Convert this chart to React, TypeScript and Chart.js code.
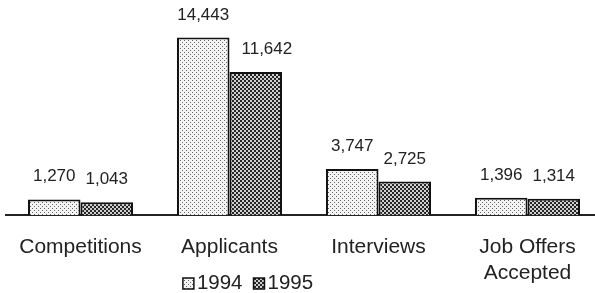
import React, { useEffect, useRef } from "react";
import { Chart, registerables } from "chart.js";

Chart.register(...registerables);

const categories: (string | string[])[] = ["Competitions", "Applicants", "Interviews", ["Job Offers", "Accepted"]];
const seriesNames = ["1994", "1995"];
const values1994 = [1270, 14443, 3747, 1396];
const values1995 = [1043, 11642, 2725, 1314];

const FONT = "'Liberation Sans', Arial, Helvetica, sans-serif";
const TEXT = "#222";

function makePattern(kind: number): CanvasPattern | string {
  const c = document.createElement("canvas");
  c.width = 4;
  c.height = 4;
  const g = c.getContext("2d");
  if (!g) return "#999";
  if (kind === 0) {
    g.fillStyle = "#f4f4f4";
    g.fillRect(0, 0, 4, 4);
    g.fillStyle = "#666";
    g.fillRect(0, 0, 1, 1);
    g.fillRect(2, 2, 1, 1);
  } else {
    g.fillStyle = "#cfcfcf";
    g.fillRect(0, 0, 4, 4);
    g.fillStyle = "#262626";
    g.fillRect(0, 0, 2, 2);
    g.fillRect(2, 2, 2, 2);
  }
  return g.createPattern(c, "repeat") || "#999";
}

function fmt(n: number): string {
  return String(n).replace(/\B(?=(\d{3})+(?!\d))/g, ",");
}

const valueLabels = {
  id: "valueLabels",
  afterDatasetsDraw(chart: any) {
    const ctx = chart.ctx;
    ctx.save();
    ctx.font = "17px " + FONT;
    ctx.fillStyle = TEXT;
    ctx.textAlign = "center";
    ctx.textBaseline = "alphabetic";
    chart.data.datasets.forEach((ds: any, di: number) => {
      const meta = chart.getDatasetMeta(di);
      meta.data.forEach((bar: any, i: number) => {
        const text = fmt(ds.data[i]);
        const y = bar.y - 18;
        let x = bar.x;
        const w = ctx.measureText(text).width;
        if (di > 0) {
          const prev = chart.getDatasetMeta(di - 1).data[i];
          const prevRight = prev.x + prev.width / 2;
          if (prev.y < y && x - w / 2 < prevRight + 12) x = prevRight + 12 + w / 2;
        }
        ctx.fillText(text, x, y);
      });
    });
    ctx.restore();
  },
};

const customLegend = {
  id: "customLegend",
  afterDraw(chart: any) {
    const ctx = chart.ctx;
    ctx.save();
    ctx.font = "20.5px " + FONT;
    ctx.textBaseline = "alphabetic";
    ctx.textAlign = "left";
    const box = 11;
    const gapBoxText = 3;
    const gapItems = 11;
    const widths = chart.data.datasets.map((ds: any) => ctx.measureText(ds.label).width);
    let total = 0;
    widths.forEach((w: number, i: number) => {
      total += box + gapBoxText + w + (i < widths.length - 1 ? gapItems : 0);
    });
    let x = 248 - total / 2;
    const baseline = 289;
    chart.data.datasets.forEach((ds: any, i: number) => {
      ctx.fillStyle = ds.backgroundColor;
      ctx.fillRect(x, baseline - 11, box, box);
      ctx.strokeStyle = "#111";
      ctx.lineWidth = 1.5;
      ctx.strokeRect(x, baseline - 11, box, box);
      ctx.fillStyle = TEXT;
      ctx.fillText(ds.label, x + box + gapBoxText, baseline);
      x += box + gapBoxText + widths[i] + gapItems;
    });
    ctx.restore();
  },
};

export default function App() {
  const ref = useRef<HTMLCanvasElement | null>(null);
  useEffect(() => {
    if (!ref.current) return;
    const chart = new Chart(ref.current, {
      type: "bar",
      data: {
        labels: categories as any,
        datasets: [
          {
            label: seriesNames[0],
            data: values1994,
            backgroundColor: makePattern(0) as any,
            borderColor: "#111",
            borderWidth: 2,
            categoryPercentage: 0.705,
            barPercentage: 1,
          },
          {
            label: seriesNames[1],
            data: values1995,
            backgroundColor: makePattern(1) as any,
            borderColor: "#111",
            borderWidth: 2,
            categoryPercentage: 0.705,
            barPercentage: 1,
          },
        ],
      },
      options: {
        responsive: false,
        animation: false,
        devicePixelRatio: 1,
        layout: { padding: { left: 6, right: 0, top: 0, bottom: 0 } },
        plugins: {
          legend: { display: false },
          tooltip: { enabled: false },
        },
        scales: {
          x: {
            grid: { display: false, drawTicks: false },
            border: { display: true, color: "#222", width: 2 },
            ticks: {
              padding: 20,
              color: TEXT,
              font: { family: FONT, size: 21, lineHeight: 1.2 },
              maxRotation: 0,
              autoSkip: false,
            },
            afterFit: (scale: any) => {
              scale.height = 78;
              scale.paddingLeft = 0;
              scale.paddingRight = 0;
            },
          },
          y: {
            display: false,
            min: 0,
            max: 17500,
          },
        },
      },
      plugins: [valueLabels, customLegend],
    });
    return () => chart.destroy();
  }, []);
  return (
    <div style={{ position: "fixed", left: 0, top: 0, width: 595, height: 293, overflow: "hidden", background: "#fff" }}>
      <canvas ref={ref} width={602} height={293} style={{ display: "block" }} />
    </div>
  );
}
